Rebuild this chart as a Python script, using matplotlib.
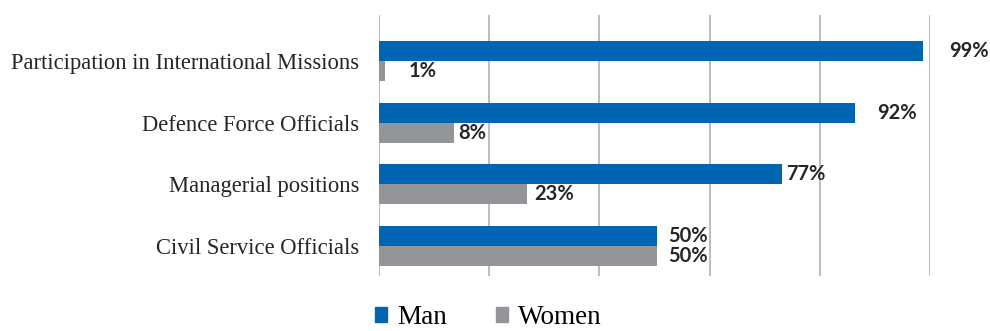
import matplotlib.pyplot as plt
from matplotlib.patches import Patch
import numpy as np

#___Data___#
categories = ["Participation in International Missions", "Defence Force Officials",
              "Managerial positions", "Civil Service Officials"]
# bar lengths as drawn in the source (they do not quite follow the printed labels)
man = [98.8, 86.4, 73.1, 50.4]
women = [1.1, 13.6, 26.8, 50.4]
man_labels = ["99%", "92%", "77%", "50%"]
women_labels = ["1%", "8%", "23%", "50%"]
series_names = ["Man", "Women"]

#___Style___#
blue, grey = "#0066B3", "#939598"
grid_c = "#BDBDBD"
# label gaps (px) after each bar end, as placed in the source chart
man_pad = [26, 22, 4, 11]
women_pad = [24, 4, 8, 11]

fig = plt.figure(figsize=(9.9, 3.31), dpi=100)
ax = fig.add_axes([379/990, 1-276/331, 551/990, 261/331])

y = np.arange(len(categories))[::-1].astype(float)
h = 0.325
ax.barh(y + h/2, man, height=h, color=blue, zorder=3)
ax.barh(y - h/2, women, height=h, color=grey, zorder=3)

def put_labels(ys, vals, texts, pads):
    for yi, v, t, p in zip(ys, vals, texts, pads):
        ax.annotate(t, (v, yi), xytext=(p*0.72, 0), textcoords="offset points",
                    ha="left", va="center", fontsize=14.5, fontweight="bold",
                    family="Lato", color="#262626")

put_labels(y + h/2, man, man_labels, man_pad)
put_labels(y - h/2, women, women_labels, women_pad)

ax.set_xlim(0, 100)
ax.set_ylim(-0.486, 3.745)
ax.set_xticks([0, 20, 40, 60, 80, 100])
ax.set_xticklabels([])
ax.tick_params(axis="x", length=0)
ax.grid(axis="x", color=grid_c, lw=1.4, zorder=0)
ax.set_yticks(y)
ax.set_yticklabels(categories, family="Liberation Serif", fontsize=16.3, color="#262626")
ax.tick_params(axis="y", length=0, pad=14)
for s in ax.spines.values():
    s.set_visible(False)

handles = [Patch(color=blue), Patch(color=grey)]
fig.legend(handles, series_names, loc="lower left", bbox_to_anchor=(375/990, 0.002),
           ncol=2, frameon=False, borderpad=0, borderaxespad=0,
           handlelength=0.44, handleheight=0.44,
           handletextpad=0.4, columnspacing=1.78,
           prop={"family": "Liberation Serif", "size": 19.5})

fig.savefig("out.png", dpi=100)
